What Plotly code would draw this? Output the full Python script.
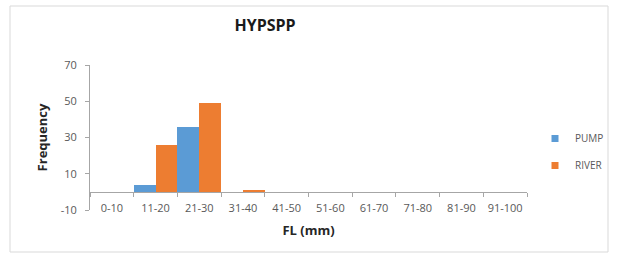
import plotly.graph_objects as go

categories = ["0-10", "11-20", "21-30", "31-40", "41-50", "51-60", "61-70", "71-80", "81-90", "91-100"]
pump = [0, 4, 36, 0, 0, 0, 0, 0, 0, 0]
river = [0, 26, 49, 1, 0, 0, 0, 0, 0, 0]
series_names = ["PUMP", "RIVER"]
series_colors = ["#5B9BD5", "#ED7D31"]
y_ticks = [-10, 10, 30, 50, 70]
y_tick_text = ["-10", "10", "30", "50", "70"]

W, H = 617, 259
L, R, T, B = 90, 90, 65, 49
pw, ph = W - L - R, H - T - B

def px_x(px):
    return (px - L) / pw

def px_y(py):
    return (H - B - py) / ph

font = "Open Sans, DejaVu Sans, sans-serif"
tick_col = "#595959"
line_col = "#a6a6a6"

fig = go.Figure()
for name, vals, col in zip(series_names, [pump, river], series_colors):
    fig.add_trace(go.Bar(x=categories, y=vals, name=name, showlegend=False,
                         marker=dict(color=col, line=dict(width=0))))
# legend entries with small square swatches
for i, (name, col) in enumerate(zip(series_names, series_colors)):
    fig.add_trace(go.Scatter(x=[None], y=[None], name=name, mode="markers",
                             legendgroup=str(i),
                             marker=dict(symbol="square", size=7, color=col)))
# invisible helper so the zero-crossing category axis is drawn
fig.add_trace(go.Scatter(x=categories, y=pump, xaxis="x2", mode="markers",
                         marker=dict(opacity=0), showlegend=False, hoverinfo="skip"))

zero_frac = (0 - y_ticks[0]) / (y_ticks[-1] - y_ticks[0])

fig.update_layout(
    width=W, height=H,
    margin=dict(l=L, r=R, t=T, b=B, autoexpand=False),
    paper_bgcolor="white", plot_bgcolor="white",
    barmode="group", bargap=0, bargroupgap=0,
    title=dict(text="<b>HYPSPP</b>", x=265 / W, xanchor="center",
               y=1 - 25 / H, yanchor="middle",
               font=dict(family=font, size=16, color="#1a1a1a")),
    font=dict(family=font, size=11, color=tick_col),
    xaxis=dict(type="category", categoryorder="array", categoryarray=categories,
               range=[-0.5, 9.5], showline=False, showgrid=False, ticks="",
               automargin=False, ticklabelstandoff=-10,
               tickfont=dict(family=font, size=11, color=tick_col),
               title=dict(text="<b>FL (mm)</b>", standoff=11,
                          font=dict(family=font, size=13, color="#262626"))),
    xaxis2=dict(type="category", categoryorder="array", categoryarray=categories,
                range=[-0.5, 9.5], overlaying="x", anchor="free", position=zero_frac,
                side="bottom", showline=True, linecolor=line_col, linewidth=1,
                ticks="outside", tickson="boundaries", ticklen=4, tickcolor=line_col,
                showticklabels=False, showgrid=False, automargin=False),
    yaxis=dict(range=[y_ticks[0], y_ticks[-1]], tickvals=y_ticks, ticktext=y_tick_text,
               showgrid=False, automargin=False, ticklabelstandoff=6,
               showline=True, linecolor=line_col, linewidth=1, ticks="outside",
               ticklen=4, tickcolor=line_col, zeroline=False,
               tickfont=dict(family=font, size=11, color=tick_col),
               title=dict(text="<b>Frequency</b>", standoff=10,
                          font=dict(family=font, size=13, color="#262626"))),
    legend=dict(x=px_x(535), y=px_y(124), xanchor="left", yanchor="top",
                font=dict(family=font, size=10, color=tick_col),
                traceorder="grouped", tracegroupgap=8,
                itemwidth=30, bgcolor="rgba(0,0,0,0)"),
    shapes=[dict(type="rect", xref="paper", yref="paper",
                 x0=px_x(10), x1=px_x(608), y0=px_y(252), y1=px_y(6),
                 line=dict(color="#d9d9d9", width=1), layer="below")],
)

fig.write_html("out.html", config={"displayModeBar": False},
               post_script="document.body.style.margin='0';")
